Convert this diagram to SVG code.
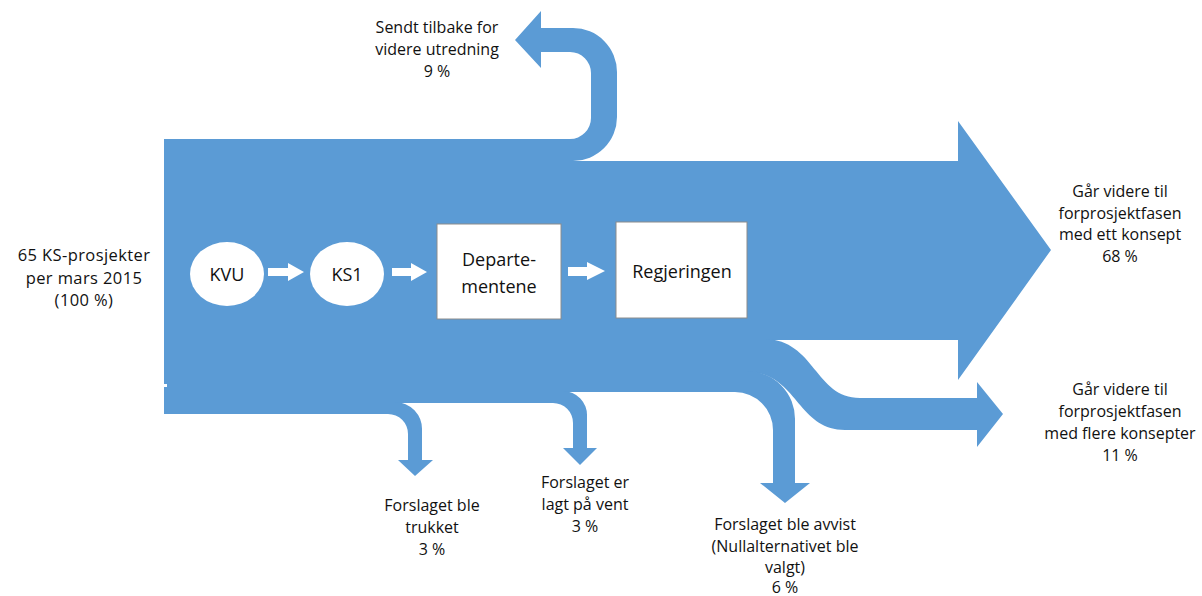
<svg xmlns="http://www.w3.org/2000/svg" width="1202" height="596" viewBox="0 0 1202 596">
<style>
.flow{fill:#5B9BD5;}
.lbl{font-family:"Open Sans","Liberation Sans",sans-serif;font-size:16px;fill:#111;text-anchor:middle;}
.big{font-size:16.5px;letter-spacing:0.4px;}
.nt{font-family:"Open Sans","Liberation Sans",sans-serif;font-size:18px;fill:#111;text-anchor:middle;}
.node{fill:#fff;}
.box{fill:#fff;stroke:#8c8c8c;stroke-width:1;}
.conn{fill:#fff;}
</style>
<rect width="1202" height="596" fill="#fff"/>
<g id="flows">
  <path class="flow" d="M164,139 H570 A21,21 0 0 0 591,118 V73 A21,21 0 0 0 570,52 H541 V68 L515,40 L541,11 V28 H573 A44,44 0 0 1 617,72 V117 A44,44 0 0 1 573,161 H164 Z"/>
  <path class="flow" d="M164,161 H958 V121 L1051,250 L958,380 V340 H164 Z"/>
  <path class="flow" d="M164,339 H765 C815,340 815,398 860,398 H977 V382 L1003,414 L977,447 V430 H845 C797,430 797,372 747,372 H164 Z"/>
  <path class="flow" d="M164,371 H747 A48,48 0 0 1 795,420 V483 H810 L785,503 L760,483 H773 V430 A38,38 0 0 0 735,392 H164 Z"/>
  <path class="flow" d="M164,391 H563 A24,24 0 0 1 587,416 V448 H597 L580,465 L563,448 H573 V423 A20,20 0 0 0 553,403 H164 Z"/>
  <path class="flow" d="M164,402 H395 A27,27 0 0 1 422,430 V460 H433 L415,476 L398,460 H408 V434 A20,20 0 0 0 388,414 H164 Z"/>
  <rect x="164" y="384" width="3" height="3" fill="#fff"/>
</g>
<g id="connectors">
  <path class="conn" d="M268,268 H288 V263 L304,272 L288,281 V276 H268 Z"/>
  <path class="conn" d="M392,268 H411 V263 L427,272 L411,281 V276 H392 Z"/>
  <path class="conn" d="M568,267 H587 V262 L605,271 L587,280 V276 H568 Z"/>
</g>
<g id="node-kvu">
  <ellipse class="node" cx="227" cy="274" rx="37" ry="32"/>
  <text class="nt" x="227" y="281">KVU</text>
</g>
<g id="node-ks1">
  <ellipse class="node" cx="347" cy="274" rx="37" ry="32"/>
  <text class="nt" x="347" y="281">KS1</text>
</g>
<g id="node-departementene">
  <rect class="box" x="437" y="224" width="124" height="95"/>
  <text class="nt" x="499" y="266">Departe-</text>
  <text class="nt" x="499" y="293">mentene</text>
</g>
<g id="node-regjeringen">
  <rect class="box" x="616" y="222" width="131" height="96"/>
  <text class="nt" x="682" y="278">Regjeringen</text>
</g>
<g id="labels">
  <text class="lbl" x="437" y="33">Sendt tilbake for</text>
  <text class="lbl" x="437" y="55">videre utredning</text>
  <text class="lbl" x="437" y="77">9 %</text>
  <text class="lbl big" x="84" y="261">65 KS-prosjekter</text>
  <text class="lbl big" x="84" y="283.5">per mars 2015</text>
  <text class="lbl big" x="84" y="306">(100 %)</text>
  <text class="lbl" x="1120" y="197">Går videre til</text>
  <text class="lbl" x="1120" y="219">forprosjektfasen</text>
  <text class="lbl" x="1120" y="240">med ett konsept</text>
  <text class="lbl" x="1120" y="262">68 %</text>
  <text class="lbl" x="1120" y="395">Går videre til</text>
  <text class="lbl" x="1120" y="417">forprosjektfasen</text>
  <text class="lbl" x="1120" y="439">med flere konsepter</text>
  <text class="lbl" x="1120" y="461">11 %</text>
  <text class="lbl" x="432" y="511">Forslaget ble</text>
  <text class="lbl" x="432" y="533">trukket</text>
  <text class="lbl" x="432" y="555">3 %</text>
  <text class="lbl" x="585" y="488">Forslaget er</text>
  <text class="lbl" x="585" y="510">lagt på vent</text>
  <text class="lbl" x="585" y="532">3 %</text>
  <text class="lbl" x="785" y="530">Forslaget ble avvist</text>
  <text class="lbl" x="785" y="552">(Nullalternativet ble</text>
  <text class="lbl" x="785" y="573">valgt)</text>
  <text class="lbl" x="785" y="593">6 %</text>
</g>
</svg>
